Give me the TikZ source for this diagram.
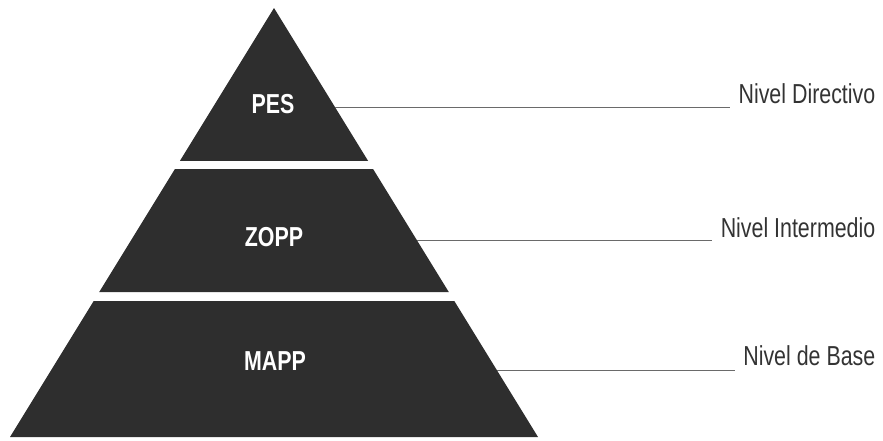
\documentclass[tikz,border=0pt]{standalone}
\usepackage{fontspec}
\setmainfont{Liberation Sans}[FakeStretch=0.78]
\usetikzlibrary{calc,positioning}
\definecolor{tierfill}{HTML}{2E2E2E}
\definecolor{leadgray}{HTML}{6A6A6A}

\begin{document}
\begin{tikzpicture}[x=0.025cm,y=-0.025cm,
  tier/.style={fill=tierfill},
  tiername/.style={text=white,font=\fontsize{19.5}{23}\selectfont\bfseries,anchor=base},
  levelname/.style={text=black!80,font=\fontsize{19.5}{23}\selectfont,anchor=base east,inner xsep=6pt},
  leader/.style={draw=leadgray,line width=0.5pt}]
\useasboundingbox (0,0) rectangle (883,441);
\coordinate (A) at (274,8); \coordinate (BL) at (10,437); \coordinate (BR) at (538,437);
% tiers: top/bottom fractions along the sides
\foreach \a/\b in {0/0.3566,0.3753/0.662,0.683/1}
  \fill[tier] ($(A)!\a!(BL)$) -- ($(A)!\a!(BR)$) -- ($(A)!\b!(BR)$) -- ($(A)!\b!(BL)$) -- cycle;
\node[tiername] (pes) at (273,113) {PES};
\node[tiername] (zopp) at (274,246) {ZOPP};
\node[tiername] (mapp) at (275,370) {MAPP};
% level names on the right
\node[levelname] (dir) at (884,103) {Nivel Directivo};
\node[levelname] (inter) at (884,237) {Nivel Intermedio};
\node[levelname] (base) at (884,365) {Nivel de Base};
\coordinate (r1) at ($(A)!0.2308!(BR)$);
\coordinate (r2) at ($(A)!0.5408!(BR)$);
\coordinate (r3) at ($(A)!0.8438!(BR)$);
\draw[leader] (r1) -- (r1 -| dir.west);
\draw[leader] (r2) -- (r2 -| inter.west);
\draw[leader] (r3) -- (r3 -| base.west);
\end{tikzpicture}
\end{document}
